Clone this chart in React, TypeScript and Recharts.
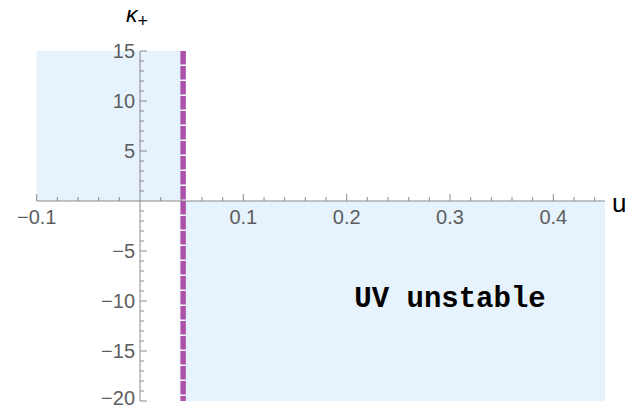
import { ComposedChart, Line, XAxis, YAxis, ReferenceArea, ReferenceLine, ReferenceDot } from "recharts"

// plot ranges
const uRange = [-0.1, 0.45]
const kRange = [-20, 15]

// boundary of the UV-unstable region
const uBoundary = 0.0417
const boundaryPoints = [
  { u: uBoundary, k: 15 },
  { u: uBoundary, k: -20 },
]

// shaded regions
const stableU = [-0.1, uBoundary]
const stableK = [0, 15]
const unstableU = [uBoundary, 0.45]
const unstableK = [-20, 0]

// ticks
const xMajor = [-0.1, 0.1, 0.2, 0.3, 0.4]
const xLabels = ["−0.1", "0.1", "0.2", "0.3", "0.4"]
const yMajor = [-20, -15, -10, -5, 5, 10, 15]
const yLabels = ["−20", "−15", "−10", "−5", "5", "10", "15"]

const steps = (from: number, to: number, n: number) =>
  Array.from({ length: n + 1 }, (_, i) => Math.round((from + ((to - from) * i) / n) * 1000) / 1000)
const xMinor = steps(-0.1, 0.44, 27).filter((v) => !xMajor.includes(v) && v !== 0)
const yMinor = steps(-20, 15, 35).filter((v) => !yMajor.includes(v) && v !== 0)

const axisColor = "#8a8a8a"
const labelColor = "#5e5e5e"
const shade = "#e6f2fc"
const purple = "#ab52ab"
const font = "'Liberation Sans', Arial, sans-serif"

const xTick = (len: number, label?: string) => (p: any) => (
  <g>
    <line x1={p.cx} y1={p.cy} x2={p.cx} y2={p.cy - len} stroke={axisColor} strokeWidth={1} />
    {label && (
      <text x={p.cx} y={p.cy + 23} textAnchor="middle" fontSize={20} fill={labelColor} fontFamily={font}>
        {label}
      </text>
    )}
  </g>
)

const yTick = (len: number, label?: string) => (p: any) => (
  <g>
    <line x1={p.cx} y1={p.cy} x2={p.cx + len} y2={p.cy} stroke={axisColor} strokeWidth={1} />
    {label && (
      // keep the lowest label inside the picture
      <text x={p.cx - 5} y={Math.min(p.cy + 7, 405)} textAnchor="end" fontSize={20} fill={labelColor} fontFamily={font}>
        {label}
      </text>
    )}
  </g>
)

export default function App() {
  return (
    <div style={{ position: "absolute", left: 0, top: 0, width: 644, height: 410, background: "#fff" }}>
      <ComposedChart
        width={644}
        height={410}
        data={boundaryPoints}
        margin={{ top: 51, right: 39, bottom: 9, left: 36.7 }}
      >
        <XAxis dataKey="u" type="number" domain={uRange} allowDataOverflow hide />
        <YAxis dataKey="k" type="number" domain={kRange} allowDataOverflow hide />
        <ReferenceArea x1={stableU[0]} x2={stableU[1]} y1={stableK[0]} y2={stableK[1]} fill={shade} fillOpacity={1} stroke="none" />
        <ReferenceArea x1={unstableU[0]} x2={unstableU[1]} y1={unstableK[0]} y2={unstableK[1]} fill={shade} fillOpacity={1} stroke="none" />
        <ReferenceLine y={0} stroke={axisColor} strokeWidth={1} />
        <ReferenceLine x={0} stroke={axisColor} strokeWidth={1} />
        {xMinor.map((v) => (
          <ReferenceDot key={`xm${v}`} x={v} y={0} r={0} ifOverflow="visible" shape={xTick(4)} />
        ))}
        {xMajor.map((v, i) => (
          <ReferenceDot key={`xM${v}`} x={v} y={0} r={0} ifOverflow="visible" shape={xTick(7, xLabels[i])} />
        ))}
        {yMinor.map((v) => (
          <ReferenceDot key={`ym${v}`} x={0} y={v} r={0} ifOverflow="visible" shape={yTick(4)} />
        ))}
        {yMajor.map((v, i) => (
          <ReferenceDot key={`yM${v}`} x={0} y={v} r={0} ifOverflow="visible" shape={yTick(7, yLabels[i])} />
        ))}
        <ReferenceDot
          x={0}
          y={kRange[1]}
          r={0}
          ifOverflow="visible"
          shape={(p: any) => (
            <text x={p.cx - 14} y={p.cy - 29} fontSize={23} fontStyle="italic" fill="#000" fontFamily={font}>
              κ<tspan dy={5} fontSize={18} fontStyle="normal">+</tspan>
            </text>
          )}
        />
        <ReferenceDot
          x={uRange[1]}
          y={0}
          r={0}
          ifOverflow="visible"
          shape={(p: any) => (
            <text x={p.cx + 7} y={p.cy + 11} fontSize={26} fill="#000" fontFamily={font}>
              u
            </text>
          )}
        />
        <ReferenceDot
          x={0.3}
          y={-9.7}
          r={0}
          ifOverflow="visible"
          shape={(p: any) => (
            <text x={p.cx} y={p.cy + 9} textAnchor="middle" fontSize={29} fontWeight="bold" fill="#000" fontFamily="'Liberation Mono', 'Courier New', monospace">
              UV unstable
            </text>
          )}
        />
        <Line
          dataKey="k"
          stroke={purple}
          strokeWidth={5.5}
          strokeDasharray="13.5 1.5"
          dot={false}
          activeDot={false}
          isAnimationActive={false}
        />
      </ComposedChart>
    </div>
  )
}
